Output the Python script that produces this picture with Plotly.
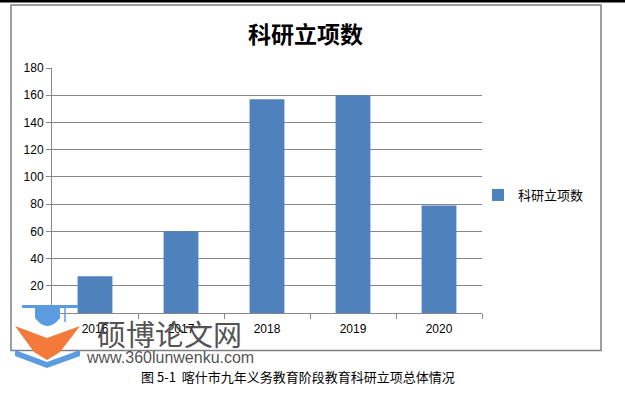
import plotly.graph_objects as go

years = ["2016", "2017", "2018", "2019", "2020"]
counts = [27, 60, 157, 160, 79]
series_name = "科研立项数"
title_text = "科研立项数"
caption_text = "图 5-1  喀什市九年义务教育阶段教育科研立项总体情况"
y_ticks = [0, 20, 40, 60, 80, 100, 120, 140, 160, 180]

W, H = 625, 394
L, R, T, B = 52, 482, 68, 313  # plot area in pixels


def px(x):
    return (x - L) / (R - L)


def py(y):
    return (B - y) / (B - T)


FONT = "Liberation Sans, Arial, Noto Sans CJK SC"
CJK = "Noto Sans CJK SC"
grid = "#878787"

fig = go.Figure()
fig.add_trace(go.Bar(
    x=years, y=counts, name=series_name,
    marker=dict(color="#4f81bd", line=dict(width=0)),
    width=0.405,
))

shapes = [
    # outer frame
    dict(type="rect", xref="paper", yref="paper", x0=px(11), x1=px(601), y0=py(350.5), y1=py(5),
         line=dict(color="#7f7f7f", width=1.5), fillcolor="rgba(0,0,0,0)", layer="below"),
    # top black rule
    dict(type="rect", xref="paper", yref="paper", x0=px(0), x1=px(625), y0=py(2.5), y1=py(0),
         line=dict(width=0), fillcolor="#000000"),
    # watermark logo: cap
    dict(type="path", xref="paper", yref="paper",
         path=f"M {px(22)} {py(305)} L {px(78)} {py(305)} L {px(78)} {py(308)} L {px(22)} {py(308)} Z",
         fillcolor="#5b9be0", line=dict(width=0)),
    dict(type="path", xref="paper", yref="paper",
         path=f"M {px(35)} {py(308)} L {px(60)} {py(308)} L {px(60)} {py(318)} Q {px(47.5)} {py(334)} {px(35)} {py(318)} Z",
         fillcolor="#5b9be0", line=dict(width=0)),
    dict(type="line", xref="paper", yref="paper", x0=px(65), x1=px(65), y0=py(308), y1=py(322),
         line=dict(color="#5b9be0", width=1.5)),
    # orange chevron
    dict(type="path", xref="paper", yref="paper",
         path=f"M {px(15)} {py(326)} L {px(47)} {py(338)} L {px(80)} {py(326)} L {px(60)} {py(352)} L {px(47)} {py(360)} L {px(34)} {py(352)} Z",
         fillcolor="#f47a3b", line=dict(width=0)),
    # blue book
    dict(type="path", xref="paper", yref="paper",
         path=f"M {px(15)} {py(350)} L {px(47)} {py(362)} L {px(47)} {py(368)} L {px(15)} {py(356)} Z",
         fillcolor="#5b9be0", line=dict(width=0)),
    dict(type="path", xref="paper", yref="paper",
         path=f"M {px(80)} {py(350)} L {px(47)} {py(362)} L {px(47)} {py(368)} L {px(80)} {py(356)} Z",
         fillcolor="#5b9be0", line=dict(width=0)),
]

annotations = [
    dict(text="<b>" + title_text + "</b>", xref="paper", yref="paper", x=px(305), y=py(33),
         showarrow=False, font=dict(family=CJK, size=23, color="#000000"), xanchor="center", yanchor="middle"),
    dict(text=caption_text, xref="paper", yref="paper", x=px(298), y=py(376),
         showarrow=False, font=dict(family=CJK, size=13, color="#000000"), xanchor="center", yanchor="middle"),
    dict(text="硕博论文网", xref="paper", yref="paper", x=px(95), y=py(333),
         showarrow=False, font=dict(family=CJK, size=29, color="rgba(60,60,60,0.9)"), xanchor="left", yanchor="middle"),
    dict(text="www.360lunwenku.com", xref="paper", yref="paper", x=px(84), y=py(357),
         showarrow=False, font=dict(family=FONT, size=16, color="rgba(60,60,60,0.9)"), xanchor="left", yanchor="middle"),
]

fig.update_layout(
    width=W, height=H,
    margin=dict(l=L, r=W - R, t=T, b=H - B, pad=0),
    paper_bgcolor="#ffffff", plot_bgcolor="#ffffff",
    font=dict(family=FONT, size=12, color="#000000"),
    showlegend=True,
    legend=dict(x=px(478), y=py(195), xanchor="left", yanchor="middle",
                font=dict(family=CJK, size=13, color="#000000"),
                bgcolor="rgba(0,0,0,0)", itemwidth=30),
    shapes=shapes,
    annotations=annotations,
    bargap=0.6,
)
fig.update_xaxes(
    type="category", showgrid=False, showline=True, linecolor=grid, linewidth=1,
    ticks="outside", tickson="boundaries", ticklen=5, tickcolor=grid,
    tickfont=dict(family=FONT, size=12), fixedrange=True, ticklabelstandoff=5,
)
fig.update_yaxes(
    range=[0, 180], tickvals=y_ticks, showgrid=True, gridcolor=grid, gridwidth=1,
    showline=True, linecolor=grid, linewidth=1, ticks="outside", ticklen=5, tickcolor=grid,
    tickfont=dict(family=FONT, size=12), zeroline=False, fixedrange=True,
)

fig.write_html("out.html", config={"displayModeBar": False},
               post_script="document.body.style.margin='0px';document.body.style.padding='0px';")
